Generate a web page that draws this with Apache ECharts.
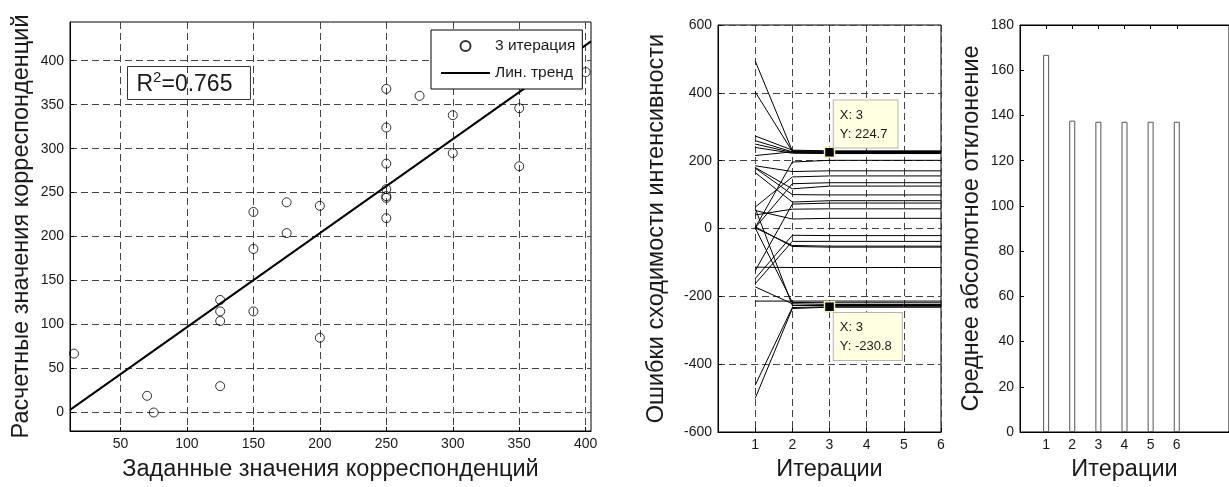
<!DOCTYPE html>
<html>
<head>
<meta charset="utf-8">
<script src="https://cdn.jsdelivr.net/npm/echarts@6/dist/echarts.min.js"></script>
<style>
html, body { margin: 0; padding: 0; background: #fff; }
#chart { width: 1229px; height: 487px; }
</style>
</head>
<body>
<div id="chart"></div>
<script>
// левый график: 3 итерация
var givenVals = [15, 70, 75, 125, 125, 125, 125, 150, 150, 150, 175, 175, 200, 200,
    250, 250, 250, 250, 250, 250, 250, 275, 300, 300, 350, 350, 400];
var calcVals = [67, 19, 0, 30, 104, 115, 128, 115, 186, 228, 204, 239, 235, 85,
    368, 324, 283, 254, 246, 244, 221, 360, 338, 295, 346, 280, 387];
var trendX = [12, 404];
var trendY = [3, 422];
var scatterTicks = [50, 100, 150, 200, 250, 300, 350, 400];
var calcTicks = [0, 50, 100, 150, 200, 250, 300, 350, 400];

// средний график: ошибки сходимости по итерациям
var iterations = [1, 2, 3, 4, 5, 6];
var errLines = [
    [494, 229, 227, 227, 227, 227],
    [403, 227, 224.7, 224.7, 224.7, 224.7],
    [273, 231, 229, 229, 229, 229],
    [259, 226, 224, 224, 224, 224],
    [249, 224, 222, 222, 222, 222],
    [239, 222, 221, 221, 221, 221],
    [215, 226, 225, 225, 225, 225],
    [2, 196, 201, 201, 201, 201],
    [185, 168, 170, 170, 170, 170],
    [63, 152, 155, 155, 155, 155],
    [180, 117, 125, 125, 125, 125],
    [2, 132, 135, 135, 135, 135],
    [178, 100, 99, 99, 99, 99],
    [165, 78, 82, 82, 82, 82],
    [40, 57, 58, 58, 58, 58],
    [53, 28, 30, 30, 30, 30],
    [-125, 72, 75, 75, 75, 75],
    [-148, -20, -21, -21, -21, -21],
    [-163, -38, -38, -38, -38, -38],
    [2, -50, -52, -52, -52, -52],
    [5, -53, -55, -55, -55, -55],
    [-114, -115, -115, -115, -115, -115],
    [-214, -214, -214, -214, -214, -214],
    [-172, -222, -224, -224, -224, -224],
    [2, -218, -219, -219, -219, -219],
    [60, -227, -227, -227, -227, -227],
    [-501, -236, -232, -232, -232, -232],
    [-462, -233, -230.8, -230.8, -230.8, -230.8]
];
var tipLine = [1, 27];
var tipX = [3, 3];
var tipY = [224.7, -230.8];
var tipOffset = [[10, -46], [10, 12]];

// правый график: среднее абсолютное отклонение
var madVals = [166.8, 137.7, 137.2, 137.2, 137.2, 137.2];

var FONT = 'Liberation Sans, Arial, sans-serif';
var TXT = '#1a1a1a';
var chart = echarts.init(document.getElementById('chart'));

function dashed() {
    return { show: true, lineStyle: { color: '#444', width: 1, type: [7, 4] } };
}
function axisBase(extra) {
    var a = {
        type: 'value',
        axisLine: { show: true, onZero: false, lineStyle: { color: '#000', width: 1 } },
        axisTick: { show: true, inside: true, length: 4, lineStyle: { color: '#000' } },
        axisLabel: { color: TXT, fontSize: 14, fontFamily: FONT, margin: 6 },
        splitLine: { show: false },
        nameLocation: 'middle',
        nameTextStyle: { color: TXT, fontSize: 23.5, fontFamily: FONT }
    };
    return Object.assign(a, extra);
}

var series = [];
series.push({
    name: '3 итерация', type: 'scatter', xAxisIndex: 0, yAxisIndex: 0,
    symbol: 'circle', symbolSize: 9,
    itemStyle: { color: 'transparent', borderColor: '#000', borderWidth: 1 },
    data: givenVals.map(function (v, i) { return [v, calcVals[i]]; }),
    silent: true, z: 3
});
series.push({
    name: 'Лин. тренд', type: 'line', xAxisIndex: 0, yAxisIndex: 0,
    symbol: 'none', showSymbol: false, lineStyle: { color: '#000', width: 2 },
    itemStyle: { color: '#000' },
    data: trendX.map(function (v, i) { return [v, trendY[i]]; }),
    silent: true, z: 4
});

errLines.forEach(function (line, k) {
    var s = {
        type: 'line', xAxisIndex: 1, yAxisIndex: 1, symbol: 'none', silent: true,
        lineStyle: { color: '#000', width: 1 },
        data: line.map(function (v, i) { return [iterations[i], v]; })
    };
    var t = tipLine.indexOf(k);
    if (t >= 0) {
        s.markPoint = {
            symbol: 'rect', symbolSize: 10, silent: true,
            itemStyle: { color: '#000', borderColor: '#f4efb4', borderWidth: 1.5 },
            label: {
                show: true, position: tipOffset[t],
                formatter: 'X: ' + tipX[t] + '\nY: ' + tipY[t],
                color: TXT, fontSize: 13, fontFamily: FONT, lineHeight: 19,
                backgroundColor: '#ffffe1', borderColor: '#b4b4b4', borderWidth: 1,
                padding: [5, 10, 4, 6]
            },
            data: [{ coord: [tipX[t], tipY[t]] }]
        };
    }
    series.push(s);
});

series.push({
    type: 'bar', xAxisIndex: 2, yAxisIndex: 2, barWidth: 6, silent: true,
    itemStyle: { color: '#fff', borderColor: '#555', borderWidth: 1 },
    data: madVals.map(function (v, i) { return [iterations[i], v]; })
});

chart.setOption({
    animation: false,
    backgroundColor: '#fff',
    textStyle: { fontFamily: FONT },
    grid: [
        { left: 70, top: 22, width: 521, height: 416, show: true, borderColor: '#000', borderWidth: 1 },
        { left: 718, top: 25, width: 223, height: 408, show: true, borderColor: '#000', borderWidth: 1 },
        { left: 1020, top: 25, width: 214, height: 409, show: true, borderColor: '#000', borderWidth: 1 }
    ],
    legend: {
        orient: 'vertical', left: 431, top: 30,
        data: [
            { name: '3 итерация' },
            { name: 'Лин. тренд', icon: 'path://M0,0H49V2H0Z' }
        ],
        itemWidth: 49, itemHeight: 10, itemGap: 11,
        padding: [8, 7, 8, 10],
        borderColor: '#000', borderWidth: 1, backgroundColor: '#fff',
        textStyle: { color: TXT, fontSize: 15.5, fontFamily: FONT },
        selectedMode: false, z: 10
    },
    xAxis: [
        axisBase({
            gridIndex: 0, min: 12, max: 404,
            name: 'Заданные значения корреспонденций', nameGap: 27,
            axisLabel: { color: TXT, fontSize: 14, fontFamily: FONT, margin: 6, customValues: scatterTicks },
            axisTick: { show: true, inside: true, length: 4, customValues: scatterTicks, lineStyle: { color: '#000' } },
            splitLine: dashed()
        }),
        axisBase({
            gridIndex: 1, min: 0, max: 6,
            name: 'Итерации', nameGap: 26,
            axisLabel: { color: TXT, fontSize: 14, fontFamily: FONT, margin: 6, customValues: iterations },
            axisTick: { show: true, inside: true, length: 4, customValues: iterations, lineStyle: { color: '#000' } },
            splitLine: dashed()
        }),
        axisBase({
            gridIndex: 2, min: 0, max: 8,
            name: 'Итерации', nameGap: 26,
            axisLabel: { color: TXT, fontSize: 14, fontFamily: FONT, margin: 6, customValues: iterations },
            axisTick: { show: true, inside: true, length: 4, customValues: iterations, lineStyle: { color: '#000' } }
        }),
        axisBase({
            gridIndex: 2, min: 0, max: 8, position: 'top',
            axisLabel: { show: false },
            axisTick: { show: true, inside: true, length: 4, customValues: iterations, lineStyle: { color: '#000' } }
        })
    ],
    yAxis: [
        axisBase({
            gridIndex: 0, min: -21, max: 444,
            name: 'Расчетные значения корреспонденций', nameGap: 36,
            axisLabel: { color: TXT, fontSize: 14, fontFamily: FONT, margin: 6, customValues: calcTicks },
            axisTick: { show: true, inside: true, length: 4, customValues: calcTicks, lineStyle: { color: '#000' } },
            splitLine: dashed()
        }),
        axisBase({
            gridIndex: 1, min: -600, max: 600, interval: 200,
            name: 'Ошибки сходимости интенсивности', nameGap: 49,
            splitLine: dashed()
        }),
        axisBase({
            gridIndex: 2, min: 0, max: 180, interval: 20,
            name: 'Среднее абсолютное отклонение', nameGap: 36
        })
    ],
    graphic: [{
        type: 'text', left: 127, top: 66, silent: true, z: 10,
        style: {
            text: '{a|R}{s|2}{a|=0.765}',
            rich: {
                a: { fontSize: 23, fontFamily: FONT, fill: TXT, verticalAlign: 'bottom', lineHeight: 26 },
                s: { fontSize: 15, fontFamily: FONT, fill: TXT, verticalAlign: 'top', lineHeight: 22 }
            },
            borderColor: '#333', borderWidth: 1,
            padding: [4, 18, 3, 9]
        }
    }],
    series: series
});
</script>
</body>
</html>
